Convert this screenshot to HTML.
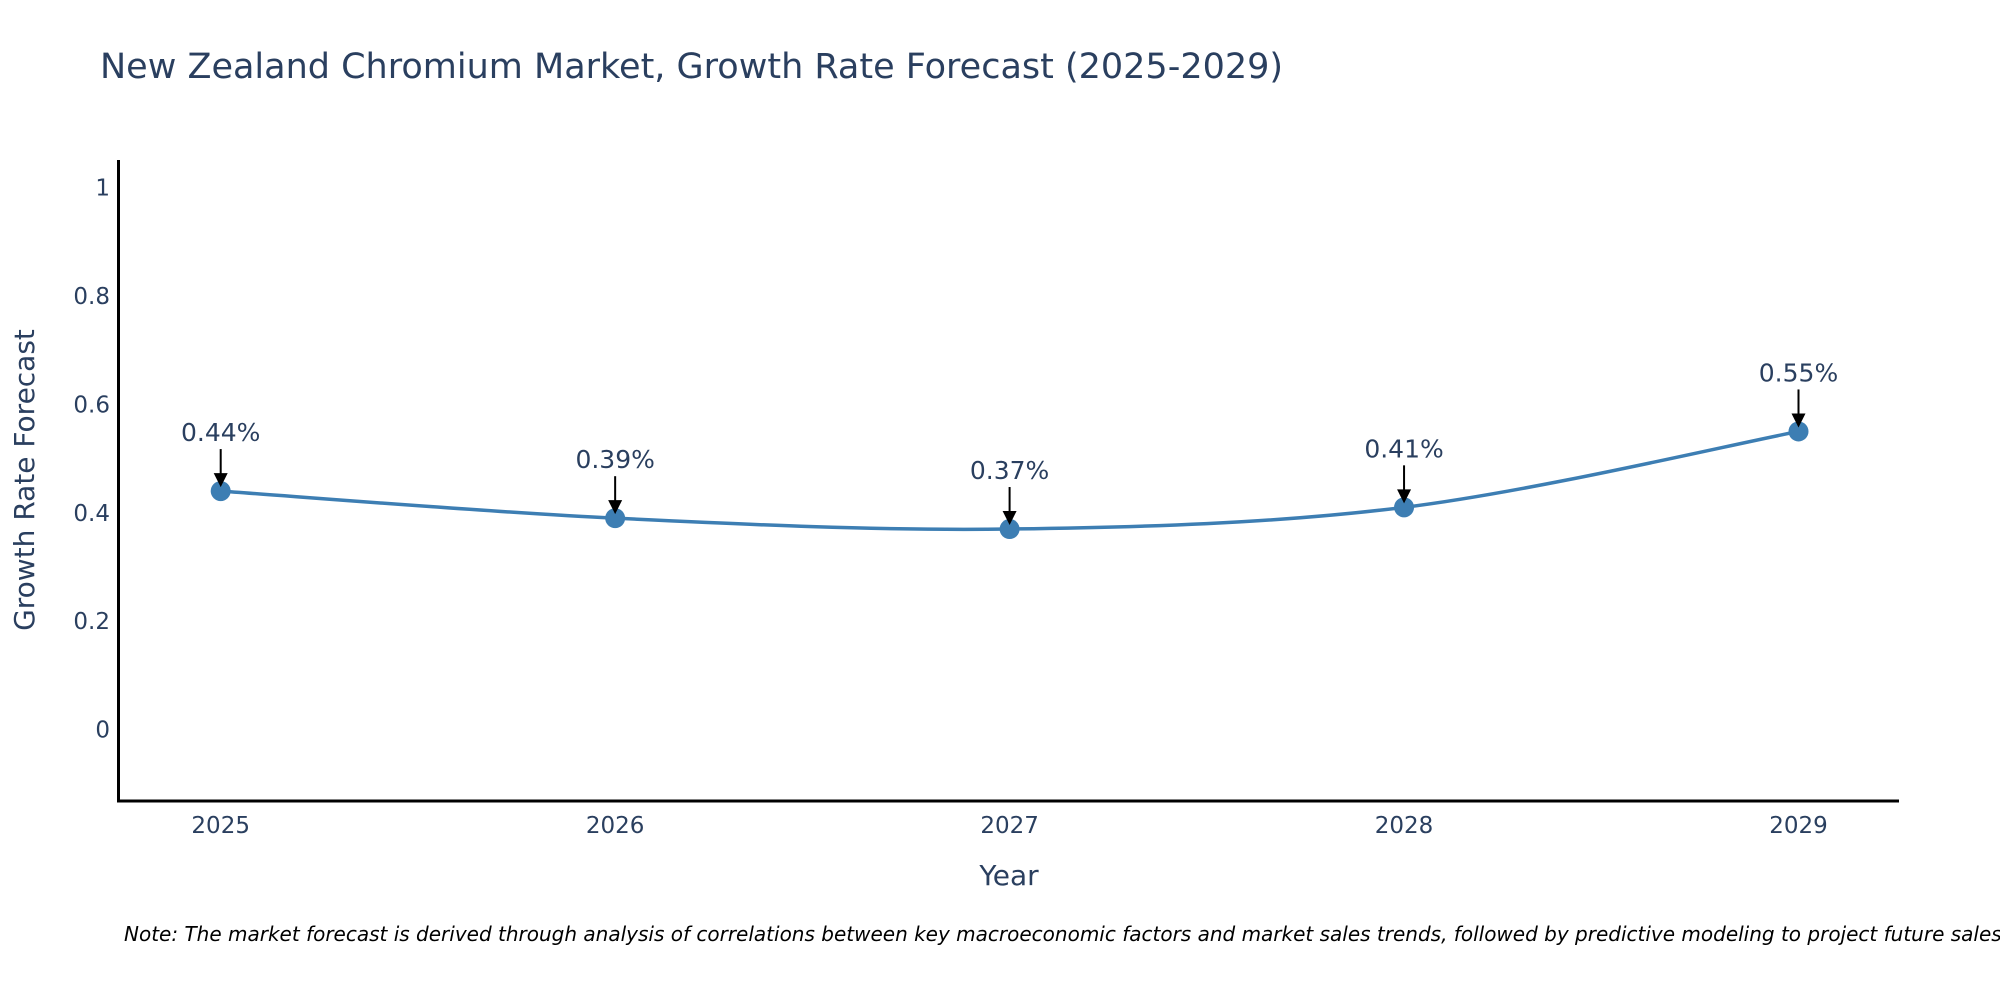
<!DOCTYPE html>
<html><head><meta charset="utf-8"><style>
html,body{margin:0;padding:0;background:#fff;}
svg{display:block;font-family:"DejaVu Sans","Liberation Sans",sans-serif;}
</style></head><body>
<svg id="chart" width="2000" height="1000" viewBox="0 0 2000 1000">
<text x="100" y="78" font-size="35" fill="#2a3f5f">New Zealand Chromium Market, Growth Rate Forecast (2025-2029)</text>
<g id="yticks"></g>
<g id="xticks"></g>
<line x1="118.5" y1="160" x2="118.5" y2="802" stroke="#000" stroke-width="3"/>
<line x1="117" y1="801" x2="1899" y2="801" stroke="#000" stroke-width="3"/>
<text transform="translate(34,480) rotate(-90)" text-anchor="middle" font-size="28" fill="#2a3f5f">Growth Rate Forecast</text>
<text x="1009" y="885" text-anchor="middle" font-size="28" fill="#2a3f5f">Year</text>
<g id="series"></g>
<g id="annos"></g>
<text x="124" y="941" font-size="20" font-style="italic" fill="#000">Note: The market forecast is derived through analysis of correlations between key macroeconomic factors and market sales trends, followed by predictive modeling to project future sales.</text>
</svg>
<script>
const years = ["2025","2026","2027","2028","2029"];
const values = [0.44, 0.39, 0.37, 0.41, 0.55];
const labels = ["0.44%","0.39%","0.37%","0.41%","0.55%"];
const yTickValues = [0, 0.2, 0.4, 0.6, 0.8, 1];
const yTickLabels = ["0","0.2","0.4","0.6","0.8","1"];

const NS = "http://www.w3.org/2000/svg";
const x0 = 220.7, x1 = 1798.5;
function xScale(i){ return x0 + (x1 - x0) * i / (years.length - 1); }
function yScale(v){ return 729.6 - v * (729.6 - 187.5); }
function mk(tag, attrs, parent){ const e = document.createElementNS(NS, tag); for (const k in attrs) e.setAttribute(k, attrs[k]); parent.appendChild(e); return e; }

const yt = document.getElementById('yticks');
yTickValues.forEach((v, i) => {
  const t = mk('text', {x: 110, y: yScale(v) + 8, 'text-anchor': 'end', 'font-size': 23, fill: '#2a3f5f'}, yt);
  
  
  t.textContent = yTickLabels[i];
});
const xt = document.getElementById('xticks');
years.forEach((y, i) => {
  const t = mk('text', {x: xScale(i), y: 833, 'text-anchor': 'middle', 'font-size': 23, fill: '#2a3f5f'}, xt);
  
  
  t.textContent = y;
});

const pts = values.map((v, i) => [xScale(i), yScale(v)]);
let d = 'M' + pts[0][0] + ',' + pts[0][1];
for (let i = 0; i < pts.length - 1; i++) {
  const p0 = pts[Math.max(0, i - 1)], p1 = pts[i], p2 = pts[i + 1], p3 = pts[Math.min(pts.length - 1, i + 2)];
  const c1 = [p1[0] + (p2[0] - p0[0]) / 6, p1[1] + (p2[1] - p0[1]) / 6];
  const c2 = [p2[0] - (p3[0] - p1[0]) / 6, p2[1] - (p3[1] - p1[1]) / 6];
  d += ' C' + c1.join(',') + ' ' + c2.join(',') + ' ' + p2.join(',');
}
const s = document.getElementById('series');
const line = mk('path', {d: d, fill: 'none', stroke: '#3d7eb3', 'stroke-width': 3.5}, s);


pts.forEach((p, i) => {
  const c = mk('circle', {cx: p[0], cy: p[1], r: 10, fill: '#3d7eb3'}, s);
  
  
});
const a = document.getElementById('annos');
pts.forEach((p, i) => {
  const t = mk('text', {x: p[0], y: p[1] - 50, 'text-anchor': 'middle', 'font-size': 25, fill: '#2a3f5f'}, a);
  
  
  t.textContent = labels[i];
  const l = mk('line', {x1: p[0], y1: p[1] - 42, x2: p[0], y2: p[1] - 14, stroke: '#000', 'stroke-width': 2}, a);
  
  
  const h = mk('path', {d: 'M' + (p[0] - 7) + ',' + (p[1] - 18) + ' L' + (p[0] + 7) + ',' + (p[1] - 18) + ' L' + p[0] + ',' + (p[1] - 4) + ' Z', fill: '#000'}, a);
  
  
});
</script>
</body></html>
